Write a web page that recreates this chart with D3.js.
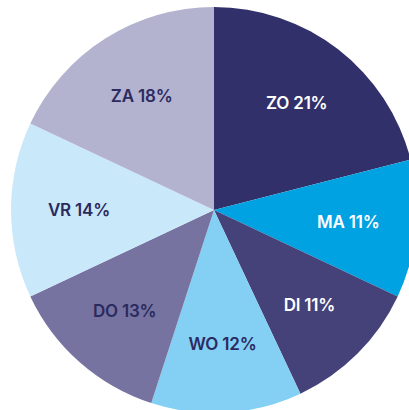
<!DOCTYPE html>
<html>
<head>
<meta charset="utf-8">
<script src="https://cdn.jsdelivr.net/npm/d3@7"></script>
<style>
  body { margin: 0; background: #fff; }
  svg { display: block; }
</style>
</head>
<body>
<script>
// dagen van de week, aandeel in procenten
var days = ["ZO", "MA", "DI", "WO", "DO", "VR", "ZA"];
var shares = [21, 11, 11, 12, 13, 14, 18];
var colors = ["#32306a", "#00a2e2", "#444279", "#84cff4", "#7673a0", "#c9e8f9", "#b3b3cf"];
var labelColors = ["#ffffff", "#ffffff", "#ffffff", "#2b2a5f", "#2b2a5f", "#2b2a5f", "#2b2a5f"];

var width = 409, height = 410;
var cx = 214, cy = 210, radius = 203;

var svg = d3.select("body").append("svg")
    .attr("width", width)
    .attr("height", height);

var g = svg.append("g").attr("transform", "translate(" + cx + "," + cy + ")");

var pie = d3.pie().sort(null).value(function(d) { return d; });
var arcs = pie(shares);

var arc = d3.arc().innerRadius(0).outerRadius(radius);
var labelArc = d3.arc().innerRadius(135).outerRadius(135);

g.selectAll("path").data(arcs).enter()
    .append("path")
    .attr("d", arc)
    .attr("fill", function(d, i) { return colors[i]; });

g.selectAll("text").data(arcs).enter()
    .append("text")
    .attr("transform", function(d) { return "translate(" + labelArc.centroid(d) + ")"; })
    .attr("text-anchor", "middle")
    .attr("dy", "0.33em")
    .style("font-family", "Inter, 'Noto Sans', sans-serif")
    .style("font-weight", 600)
    .style("font-size", "17px")
    .style("letter-spacing", "-0.2px")
    .attr("fill", function(d, i) { return labelColors[i]; })
    .text(function(d, i) { return days[i] + " " + shares[i] + "%"; });
</script>
</body>
</html>
